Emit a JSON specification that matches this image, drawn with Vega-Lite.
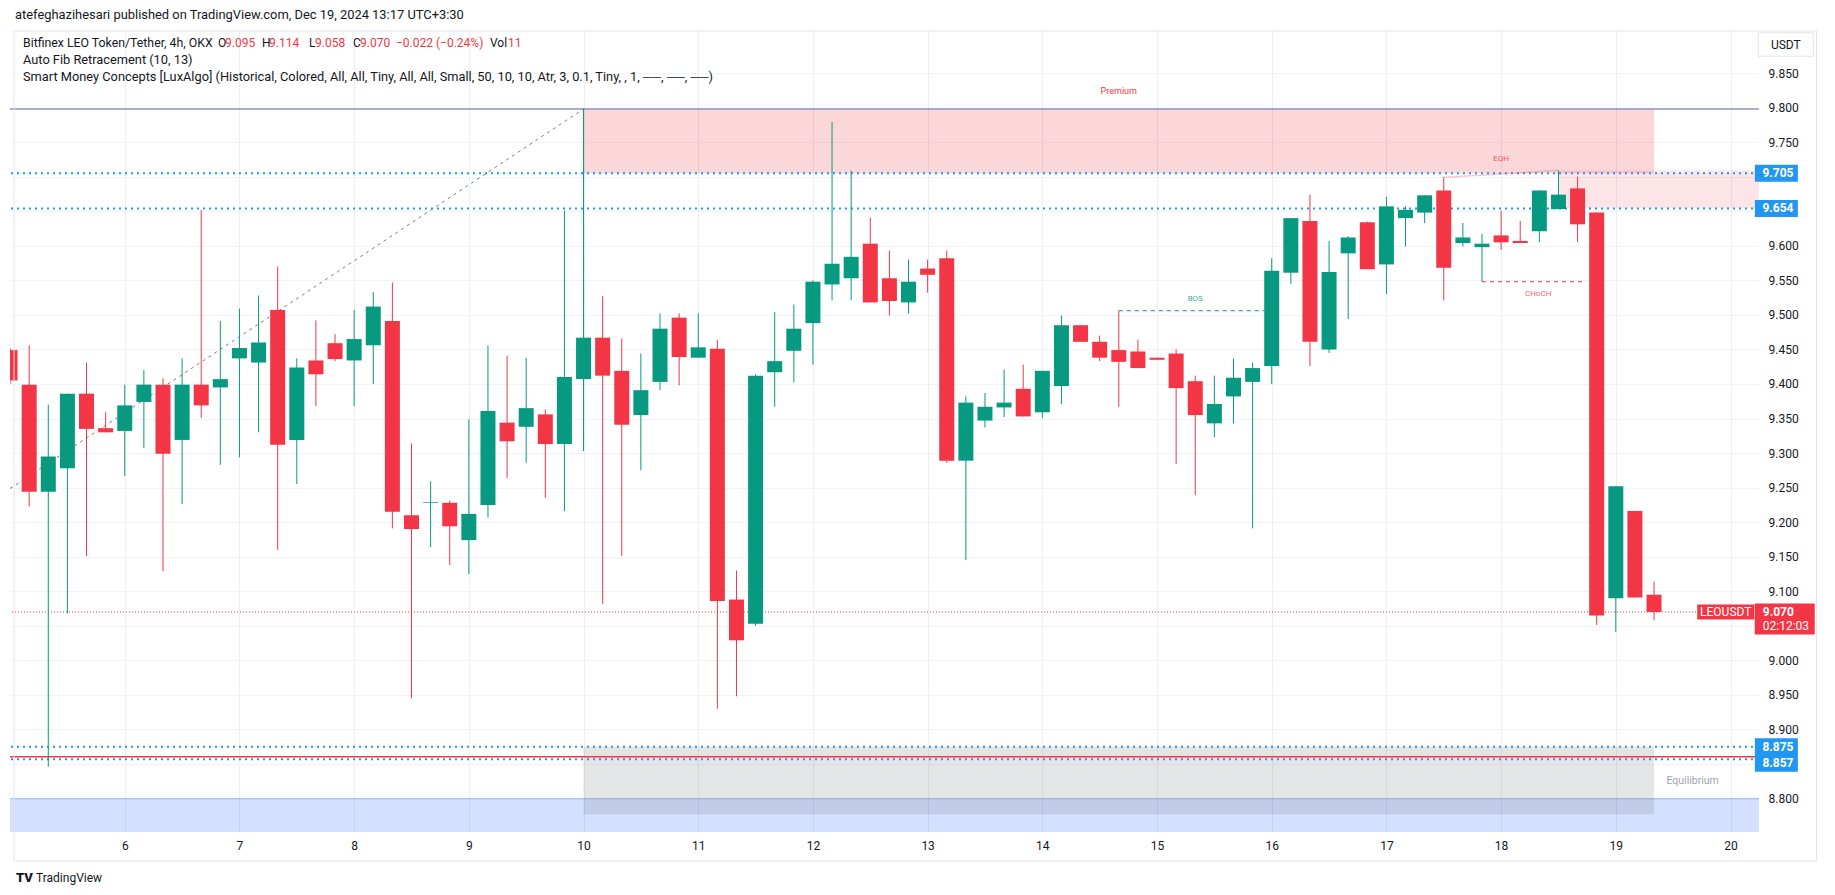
{
  "$schema": "https://vega.github.io/schema/vega-lite/v6.json",
  "width": 1749,
  "height": 801,
  "autosize": {"type": "none"},
  "padding": {"left": 10, "top": 31, "right": 76, "bottom": 63},
  "background": "#ffffff",
  "config": {
    "view": {"stroke": null},
    "font": "Roboto",
    "axis": {"domain": false, "ticks": false, "tickSize": 0, "labelFont": "Roboto", "labelFontSize": 12, "labelColor": "#131722", "labelOverlap": false}
  },
  "datasets": {
    "candles": [
      {"t": "2024-12-05T00:00:00Z", "o": 9.449, "h": 9.452, "l": 9.400, "c": 9.405},
      {"t": "2024-12-05T04:00:00Z", "o": 9.399, "h": 9.456, "l": 9.223, "c": 9.244},
      {"t": "2024-12-05T08:00:00Z", "o": 9.244, "h": 9.370, "l": 8.846, "c": 9.295},
      {"t": "2024-12-05T12:00:00Z", "o": 9.278, "h": 9.386, "l": 9.068, "c": 9.386},
      {"t": "2024-12-05T16:00:00Z", "o": 9.386, "h": 9.431, "l": 9.151, "c": 9.335},
      {"t": "2024-12-05T20:00:00Z", "o": 9.336, "h": 9.359, "l": 9.330, "c": 9.330},
      {"t": "2024-12-06T00:00:00Z", "o": 9.332, "h": 9.399, "l": 9.267, "c": 9.369},
      {"t": "2024-12-06T04:00:00Z", "o": 9.374, "h": 9.420, "l": 9.307, "c": 9.399},
      {"t": "2024-12-06T08:00:00Z", "o": 9.399, "h": 9.408, "l": 9.129, "c": 9.299},
      {"t": "2024-12-06T12:00:00Z", "o": 9.319, "h": 9.437, "l": 9.226, "c": 9.399},
      {"t": "2024-12-06T16:00:00Z", "o": 9.399, "h": 9.652, "l": 9.351, "c": 9.369},
      {"t": "2024-12-06T20:00:00Z", "o": 9.395, "h": 9.491, "l": 9.283, "c": 9.407},
      {"t": "2024-12-07T00:00:00Z", "o": 9.437, "h": 9.509, "l": 9.294, "c": 9.452},
      {"t": "2024-12-07T04:00:00Z", "o": 9.431, "h": 9.528, "l": 9.330, "c": 9.460},
      {"t": "2024-12-07T08:00:00Z", "o": 9.507, "h": 9.570, "l": 9.160, "c": 9.312},
      {"t": "2024-12-07T12:00:00Z", "o": 9.319, "h": 9.437, "l": 9.255, "c": 9.424},
      {"t": "2024-12-07T16:00:00Z", "o": 9.434, "h": 9.492, "l": 9.368, "c": 9.414},
      {"t": "2024-12-07T20:00:00Z", "o": 9.459, "h": 9.472, "l": 9.433, "c": 9.436},
      {"t": "2024-12-08T00:00:00Z", "o": 9.434, "h": 9.507, "l": 9.368, "c": 9.465},
      {"t": "2024-12-08T04:00:00Z", "o": 9.456, "h": 9.533, "l": 9.400, "c": 9.512},
      {"t": "2024-12-08T08:00:00Z", "o": 9.491, "h": 9.547, "l": 9.191, "c": 9.215},
      {"t": "2024-12-08T12:00:00Z", "o": 9.210, "h": 9.314, "l": 8.945, "c": 9.190},
      {"t": "2024-12-08T16:00:00Z", "o": 9.228, "h": 9.259, "l": 9.164, "c": 9.229},
      {"t": "2024-12-08T20:00:00Z", "o": 9.228, "h": 9.231, "l": 9.138, "c": 9.194},
      {"t": "2024-12-09T00:00:00Z", "o": 9.174, "h": 9.349, "l": 9.125, "c": 9.212},
      {"t": "2024-12-09T04:00:00Z", "o": 9.225, "h": 9.456, "l": 9.207, "c": 9.361},
      {"t": "2024-12-09T08:00:00Z", "o": 9.344, "h": 9.441, "l": 9.264, "c": 9.317},
      {"t": "2024-12-09T12:00:00Z", "o": 9.338, "h": 9.438, "l": 9.286, "c": 9.365},
      {"t": "2024-12-09T16:00:00Z", "o": 9.356, "h": 9.363, "l": 9.235, "c": 9.313},
      {"t": "2024-12-09T20:00:00Z", "o": 9.313, "h": 9.651, "l": 9.216, "c": 9.410},
      {"t": "2024-12-10T00:00:00Z", "o": 9.407, "h": 9.798, "l": 9.303, "c": 9.467},
      {"t": "2024-12-10T04:00:00Z", "o": 9.467, "h": 9.527, "l": 9.082, "c": 9.412},
      {"t": "2024-12-10T08:00:00Z", "o": 9.419, "h": 9.466, "l": 9.151, "c": 9.341},
      {"t": "2024-12-10T12:00:00Z", "o": 9.355, "h": 9.444, "l": 9.275, "c": 9.391},
      {"t": "2024-12-10T16:00:00Z", "o": 9.403, "h": 9.502, "l": 9.391, "c": 9.480},
      {"t": "2024-12-10T20:00:00Z", "o": 9.496, "h": 9.502, "l": 9.398, "c": 9.439},
      {"t": "2024-12-11T00:00:00Z", "o": 9.438, "h": 9.502, "l": 9.438, "c": 9.453},
      {"t": "2024-12-11T04:00:00Z", "o": 9.451, "h": 9.464, "l": 8.930, "c": 9.086},
      {"t": "2024-12-11T08:00:00Z", "o": 9.088, "h": 9.130, "l": 8.948, "c": 9.029},
      {"t": "2024-12-11T12:00:00Z", "o": 9.053, "h": 9.414, "l": 9.050, "c": 9.412},
      {"t": "2024-12-11T16:00:00Z", "o": 9.417, "h": 9.504, "l": 9.367, "c": 9.433},
      {"t": "2024-12-11T20:00:00Z", "o": 9.448, "h": 9.515, "l": 9.402, "c": 9.480},
      {"t": "2024-12-12T00:00:00Z", "o": 9.488, "h": 9.550, "l": 9.428, "c": 9.548},
      {"t": "2024-12-12T04:00:00Z", "o": 9.544, "h": 9.779, "l": 9.521, "c": 9.574},
      {"t": "2024-12-12T08:00:00Z", "o": 9.553, "h": 9.709, "l": 9.521, "c": 9.584},
      {"t": "2024-12-12T12:00:00Z", "o": 9.603, "h": 9.641, "l": 9.518, "c": 9.518},
      {"t": "2024-12-12T16:00:00Z", "o": 9.553, "h": 9.593, "l": 9.499, "c": 9.520},
      {"t": "2024-12-12T20:00:00Z", "o": 9.518, "h": 9.580, "l": 9.502, "c": 9.548},
      {"t": "2024-12-13T00:00:00Z", "o": 9.567, "h": 9.580, "l": 9.532, "c": 9.558},
      {"t": "2024-12-13T04:00:00Z", "o": 9.582, "h": 9.593, "l": 9.286, "c": 9.289},
      {"t": "2024-12-13T08:00:00Z", "o": 9.289, "h": 9.382, "l": 9.145, "c": 9.373},
      {"t": "2024-12-13T12:00:00Z", "o": 9.347, "h": 9.387, "l": 9.337, "c": 9.367},
      {"t": "2024-12-13T16:00:00Z", "o": 9.366, "h": 9.421, "l": 9.352, "c": 9.373},
      {"t": "2024-12-13T20:00:00Z", "o": 9.393, "h": 9.428, "l": 9.353, "c": 9.353},
      {"t": "2024-12-14T00:00:00Z", "o": 9.359, "h": 9.419, "l": 9.351, "c": 9.419},
      {"t": "2024-12-14T04:00:00Z", "o": 9.397, "h": 9.499, "l": 9.371, "c": 9.485},
      {"t": "2024-12-14T08:00:00Z", "o": 9.485, "h": 9.485, "l": 9.461, "c": 9.461},
      {"t": "2024-12-14T12:00:00Z", "o": 9.461, "h": 9.470, "l": 9.433, "c": 9.438},
      {"t": "2024-12-14T16:00:00Z", "o": 9.449, "h": 9.506, "l": 9.367, "c": 9.432},
      {"t": "2024-12-14T20:00:00Z", "o": 9.447, "h": 9.464, "l": 9.423, "c": 9.423},
      {"t": "2024-12-15T00:00:00Z", "o": 9.438, "h": 9.438, "l": 9.435, "c": 9.435},
      {"t": "2024-12-15T04:00:00Z", "o": 9.444, "h": 9.450, "l": 9.284, "c": 9.394},
      {"t": "2024-12-15T08:00:00Z", "o": 9.404, "h": 9.412, "l": 9.239, "c": 9.355},
      {"t": "2024-12-15T12:00:00Z", "o": 9.343, "h": 9.412, "l": 9.323, "c": 9.371},
      {"t": "2024-12-15T16:00:00Z", "o": 9.382, "h": 9.437, "l": 9.343, "c": 9.409},
      {"t": "2024-12-15T20:00:00Z", "o": 9.403, "h": 9.431, "l": 9.191, "c": 9.423},
      {"t": "2024-12-16T00:00:00Z", "o": 9.426, "h": 9.582, "l": 9.400, "c": 9.564},
      {"t": "2024-12-16T04:00:00Z", "o": 9.561, "h": 9.640, "l": 9.545, "c": 9.640},
      {"t": "2024-12-16T08:00:00Z", "o": 9.636, "h": 9.674, "l": 9.426, "c": 9.461},
      {"t": "2024-12-16T12:00:00Z", "o": 9.450, "h": 9.607, "l": 9.445, "c": 9.562},
      {"t": "2024-12-16T16:00:00Z", "o": 9.589, "h": 9.614, "l": 9.494, "c": 9.612},
      {"t": "2024-12-16T20:00:00Z", "o": 9.634, "h": 9.635, "l": 9.566, "c": 9.566},
      {"t": "2024-12-17T00:00:00Z", "o": 9.573, "h": 9.671, "l": 9.530, "c": 9.657},
      {"t": "2024-12-17T04:00:00Z", "o": 9.640, "h": 9.657, "l": 9.599, "c": 9.652},
      {"t": "2024-12-17T08:00:00Z", "o": 9.648, "h": 9.673, "l": 9.633, "c": 9.673},
      {"t": "2024-12-17T12:00:00Z", "o": 9.680, "h": 9.699, "l": 9.521, "c": 9.568},
      {"t": "2024-12-17T16:00:00Z", "o": 9.604, "h": 9.633, "l": 9.599, "c": 9.612},
      {"t": "2024-12-17T20:00:00Z", "o": 9.598, "h": 9.617, "l": 9.548, "c": 9.603},
      {"t": "2024-12-18T00:00:00Z", "o": 9.615, "h": 9.651, "l": 9.594, "c": 9.605},
      {"t": "2024-12-18T04:00:00Z", "o": 9.607, "h": 9.636, "l": 9.604, "c": 9.604},
      {"t": "2024-12-18T08:00:00Z", "o": 9.621, "h": 9.680, "l": 9.605, "c": 9.680},
      {"t": "2024-12-18T12:00:00Z", "o": 9.653, "h": 9.709, "l": 9.653, "c": 9.674},
      {"t": "2024-12-18T16:00:00Z", "o": 9.683, "h": 9.700, "l": 9.605, "c": 9.631},
      {"t": "2024-12-18T20:00:00Z", "o": 9.648, "h": 9.648, "l": 9.051, "c": 9.065},
      {"t": "2024-12-19T00:00:00Z", "o": 9.090, "h": 9.252, "l": 9.041, "c": 9.252},
      {"t": "2024-12-19T04:00:00Z", "o": 9.216, "h": 9.216, "l": 9.091, "c": 9.091},
      {"t": "2024-12-19T08:00:00Z", "o": 9.095, "h": 9.114, "l": 9.058, "c": 9.070}
    ]
  },
  "layer": [
    {
      "data": {"values": [{"t1": "2024-12-04T00:00:00Z", "t2": "2024-12-22T00:00:00Z", "p1": 8.60, "p2": 8.80}]},
      "mark": {"type": "rect", "clip": true, "fill": "#2962ff", "fillOpacity": 0.2, "stroke": "#2962ff", "strokeOpacity": 0.35, "strokeWidth": 1},
      "encoding": {
        "x": {"field": "t1", "type": "temporal",
          "scale": {"type": "utc", "domain": [{"year": 2024, "month": 12, "date": 5, "hours": 1, "minutes": 2, "utc": true}, {"year": 2024, "month": 12, "date": 20, "hours": 4, "minutes": 55, "utc": true}]},
          "axis": {"title": null, "grid": true, "gridColor": "#eceef2", "labelPadding": 8, "labelOverlap": false, "tickCount": 40, "labelExpr": "utcFormat(datum.value, '%-d')",
            "values": [
              {"year": 2024, "month": 12, "date": 6, "utc": true}, {"year": 2024, "month": 12, "date": 7, "utc": true},
              {"year": 2024, "month": 12, "date": 8, "utc": true}, {"year": 2024, "month": 12, "date": 9, "utc": true},
              {"year": 2024, "month": 12, "date": 10, "utc": true}, {"year": 2024, "month": 12, "date": 11, "utc": true},
              {"year": 2024, "month": 12, "date": 12, "utc": true}, {"year": 2024, "month": 12, "date": 13, "utc": true},
              {"year": 2024, "month": 12, "date": 14, "utc": true}, {"year": 2024, "month": 12, "date": 15, "utc": true},
              {"year": 2024, "month": 12, "date": 16, "utc": true}, {"year": 2024, "month": 12, "date": 17, "utc": true},
              {"year": 2024, "month": 12, "date": 18, "utc": true}, {"year": 2024, "month": 12, "date": 19, "utc": true},
              {"year": 2024, "month": 12, "date": 20, "utc": true}]}},
        "x2": {"field": "t2"},
        "y": {"field": "p1", "type": "quantitative",
          "scale": {"domain": [8.7516, 9.9108], "zero": false, "nice": false},
          "axis": {"title": null, "orient": "right", "grid": true, "gridColor": "#f0f3fa", "labelPadding": 9, "format": ".3f", "labelOverlap": false, "tickCount": 40,
            "labelExpr": "indexof(['9.700', '9.650', '9.050', '8.850'], datum.label) >= 0 ? '' : datum.label",
            "values": [8.8, 8.85, 8.9, 8.95, 9.0, 9.05, 9.1, 9.15, 9.2, 9.25, 9.3, 9.35, 9.4, 9.45, 9.5, 9.55, 9.6, 9.65, 9.7, 9.75, 9.8, 9.85]}},
        "y2": {"field": "p2"}
      }
    },
    {
      "data": {"values": [{"t1": "2024-12-10T00:00:00Z", "t2": "2024-12-19T08:00:00Z", "p1": 8.777, "p2": 8.875}]},
      "mark": {"type": "rect", "clip": true, "fill": "#787b86", "fillOpacity": 0.2},
      "encoding": {"x": {"field": "t1", "type": "temporal"}, "x2": {"field": "t2"}, "y": {"field": "p1", "type": "quantitative"}, "y2": {"field": "p2"}}
    },
    {
      "data": {"values": [{"t1": "2024-12-10T00:00:00Z", "t2": "2024-12-19T08:00:00Z", "p1": 9.705, "p2": 9.798}]},
      "mark": {"type": "rect", "clip": true, "fill": "#f23645", "fillOpacity": 0.2},
      "encoding": {"x": {"field": "t1", "type": "temporal"}, "x2": {"field": "t2"}, "y": {"field": "p1", "type": "quantitative"}, "y2": {"field": "p2"}}
    },
    {
      "data": {"values": [{"t1": "2024-12-18T12:00:00Z", "t2": "2024-12-22T00:00:00Z", "p1": 9.6545, "p2": 9.709}]},
      "mark": {"type": "rect", "clip": true, "fill": "#f23645", "fillOpacity": 0.13},
      "encoding": {"x": {"field": "t1", "type": "temporal"}, "x2": {"field": "t2"}, "y": {"field": "p1", "type": "quantitative"}, "y2": {"field": "p2"}}
    },
    {
      "data": {"values": [{"p": 9.798}]},
      "mark": {"type": "rule", "clip": true, "stroke": "#8e97b3", "strokeWidth": 1.5},
      "encoding": {"y": {"field": "p", "type": "quantitative"}}
    },
    {
      "data": {"values": [{"t": "2024-12-05T00:00:00Z", "p": 9.2487}, {"t": "2024-12-10T00:00:00Z", "p": 9.798}]},
      "mark": {"type": "line", "clip": true, "stroke": "#787b86", "strokeWidth": 1, "strokeDash": [3, 4]},
      "encoding": {"x": {"field": "t", "type": "temporal"}, "y": {"field": "p", "type": "quantitative"}}
    },
    {
      "data": {"values": [{"p": 9.705}, {"p": 9.654}, {"p": 8.875}, {"p": 8.857}]},
      "mark": {"type": "rule", "clip": true, "stroke": "#2196f3", "strokeWidth": 2, "strokeDash": [2, 4]},
      "encoding": {"y": {"field": "p", "type": "quantitative"}}
    },
    {
      "data": {"values": [{"p": 8.8605}]},
      "mark": {"type": "rule", "clip": true, "stroke": "#f23645", "strokeWidth": 1.5},
      "encoding": {"y": {"field": "p", "type": "quantitative"}}
    },
    {
      "data": {"values": [{"p": 9.070}]},
      "mark": {"type": "rule", "clip": true, "stroke": "#f23645", "strokeWidth": 1, "strokeDash": [1, 2]},
      "encoding": {"y": {"field": "p", "type": "quantitative"}}
    },
    {
      "data": {"values": [{"t1": "2024-12-14T16:00:00Z", "t2": "2024-12-15T22:25:00Z", "p": 9.506}]},
      "mark": {"type": "rule", "clip": true, "stroke": "#089981", "strokeWidth": 1, "strokeDash": [4, 4]},
      "encoding": {"x": {"field": "t1", "type": "temporal"}, "x2": {"field": "t2"}, "y": {"field": "p", "type": "quantitative"}}
    },
    {
      "data": {"values": [{"t1": "2024-12-17T20:00:00Z", "t2": "2024-12-18T17:30:00Z", "p": 9.548}]},
      "mark": {"type": "rule", "clip": true, "stroke": "#f23645", "strokeWidth": 1, "strokeDash": [4, 4]},
      "encoding": {"x": {"field": "t1", "type": "temporal"}, "x2": {"field": "t2"}, "y": {"field": "p", "type": "quantitative"}}
    },
    {
      "data": {"values": [{"t1": "2024-12-17T12:00:00Z", "t2": "2024-12-18T12:00:00Z", "p1": 9.699, "p2": 9.709}]},
      "mark": {"type": "rule", "clip": true, "stroke": "#f23645", "strokeOpacity": 0.55, "strokeWidth": 1.5, "strokeDash": [1, 1]},
      "encoding": {"x": {"field": "t1", "type": "temporal"}, "x2": {"field": "t2"}, "y": {"field": "p1", "type": "quantitative"}, "y2": {"field": "p2"}}
    },
    {
      "data": {"name": "candles"},
      "mark": {"type": "rule", "clip": true, "strokeWidth": 1},
      "encoding": {
        "x": {"field": "t", "type": "temporal"},
        "y": {"field": "l", "type": "quantitative"},
        "y2": {"field": "h"},
        "color": {"condition": {"test": "datum.c >= datum.o", "value": "#089981"}, "value": "#f23645"}
      }
    },
    {
      "data": {"name": "candles"},
      "mark": {"type": "bar", "clip": true, "width": 15},
      "encoding": {
        "x": {"field": "t", "type": "temporal"},
        "y": {"field": "o", "type": "quantitative"},
        "y2": {"field": "c"},
        "color": {"condition": {"test": "datum.c >= datum.o", "value": "#089981"}, "value": "#f23645"}
      }
    },
    {
      "data": {"values": [{"s": "Premium", "t": "2024-12-14T16:00:00Z", "p": 9.8235}]},
      "mark": {"type": "text", "fontSize": 9, "color": "#f23645", "align": "center", "baseline": "middle"},
      "encoding": {"x": {"field": "t", "type": "temporal"}, "y": {"field": "p", "type": "quantitative"}, "text": {"field": "s"}}
    },
    {
      "data": {"values": [{"s": "Equilibrium", "t": "2024-12-19T10:36:00Z", "p": 8.825}]},
      "mark": {"type": "text", "fontSize": 10.5, "color": "#a0a3ab", "align": "left", "baseline": "middle"},
      "encoding": {"x": {"field": "t", "type": "temporal"}, "y": {"field": "p", "type": "quantitative"}, "text": {"field": "s"}}
    },
    {
      "data": {"values": [{"s": "BOS", "t": "2024-12-15T08:00:00Z", "p": 9.5234}]},
      "mark": {"type": "text", "fontSize": 8, "color": "#089981", "opacity": 0.8, "align": "center", "baseline": "middle"},
      "encoding": {"x": {"field": "t", "type": "temporal"}, "y": {"field": "p", "type": "quantitative"}, "text": {"field": "s"}}
    },
    {
      "data": {"values": [{"s": "CHoCH", "t": "2024-12-18T07:45:00Z", "p": 9.5306}, {"s": "EQH", "t": "2024-12-18T00:00:00Z", "p": 9.7254}]},
      "mark": {"type": "text", "fontSize": 8, "color": "#f23645", "opacity": 0.8, "align": "center", "baseline": "middle"},
      "encoding": {"x": {"field": "t", "type": "temporal"}, "y": {"field": "p", "type": "quantitative"}, "text": {"field": "s"}}
    },
    {
      "data": {"values": [{"s": "Bitfinex LEO Token/Tether, 4h, OKX", "t": "2024-12-05T01:02:00Z", "p": 9.8938}]},
      "mark": {"type": "text", "fontSize": 12.3, "color": "#131722", "align": "left", "baseline": "middle", "dx": 8},
      "encoding": {"x": {"field": "t", "type": "temporal"}, "y": {"field": "p", "type": "quantitative"}, "text": {"field": "s"}}
    },
    {
      "data": {"values": [
        {"s": "Auto Fib Retracement (10, 13)", "t": "2024-12-05T01:02:00Z", "p": 9.8688},
        {"s": "Smart Money Concepts [LuxAlgo] (Historical, Colored, All, All, Tiny, All, All, Small, 50, 10, 10, Atr, 3, 0.1, Tiny, , 1, ──, ──, ──)", "t": "2024-12-05T01:02:00Z", "p": 9.8446}
      ]},
      "mark": {"type": "text", "fontSize": 12.8, "color": "#131722", "align": "left", "baseline": "middle", "dx": 8},
      "encoding": {"x": {"field": "t", "type": "temporal"}, "y": {"field": "p", "type": "quantitative"}, "text": {"field": "s"}}
    },
    {"data": {"values": [{"s": "O", "t": "2024-12-05T01:02:00Z", "p": 9.8938}]},
      "mark": {"type": "text", "fontSize": 12, "color": "#131722", "align": "left", "baseline": "middle", "dx": 203},
      "encoding": {"x": {"field": "t", "type": "temporal"}, "y": {"field": "p", "type": "quantitative"}, "text": {"field": "s"}}},
    {"data": {"values": [{"s": "9.095", "t": "2024-12-05T01:02:00Z", "p": 9.8938}]},
      "mark": {"type": "text", "fontSize": 12, "color": "#f23645", "align": "left", "baseline": "middle", "dx": 210},
      "encoding": {"x": {"field": "t", "type": "temporal"}, "y": {"field": "p", "type": "quantitative"}, "text": {"field": "s"}}},
    {"data": {"values": [{"s": "H", "t": "2024-12-05T01:02:00Z", "p": 9.8938}]},
      "mark": {"type": "text", "fontSize": 12, "color": "#131722", "align": "left", "baseline": "middle", "dx": 247},
      "encoding": {"x": {"field": "t", "type": "temporal"}, "y": {"field": "p", "type": "quantitative"}, "text": {"field": "s"}}},
    {"data": {"values": [{"s": "9.114", "t": "2024-12-05T01:02:00Z", "p": 9.8938}]},
      "mark": {"type": "text", "fontSize": 12, "color": "#f23645", "align": "left", "baseline": "middle", "dx": 254},
      "encoding": {"x": {"field": "t", "type": "temporal"}, "y": {"field": "p", "type": "quantitative"}, "text": {"field": "s"}}},
    {"data": {"values": [{"s": "L", "t": "2024-12-05T01:02:00Z", "p": 9.8938}]},
      "mark": {"type": "text", "fontSize": 12, "color": "#131722", "align": "left", "baseline": "middle", "dx": 294},
      "encoding": {"x": {"field": "t", "type": "temporal"}, "y": {"field": "p", "type": "quantitative"}, "text": {"field": "s"}}},
    {"data": {"values": [{"s": "9.058", "t": "2024-12-05T01:02:00Z", "p": 9.8938}]},
      "mark": {"type": "text", "fontSize": 12, "color": "#f23645", "align": "left", "baseline": "middle", "dx": 300},
      "encoding": {"x": {"field": "t", "type": "temporal"}, "y": {"field": "p", "type": "quantitative"}, "text": {"field": "s"}}},
    {"data": {"values": [{"s": "C", "t": "2024-12-05T01:02:00Z", "p": 9.8938}]},
      "mark": {"type": "text", "fontSize": 12, "color": "#131722", "align": "left", "baseline": "middle", "dx": 338},
      "encoding": {"x": {"field": "t", "type": "temporal"}, "y": {"field": "p", "type": "quantitative"}, "text": {"field": "s"}}},
    {"data": {"values": [{"s": "9.070", "t": "2024-12-05T01:02:00Z", "p": 9.8938}]},
      "mark": {"type": "text", "fontSize": 12, "color": "#f23645", "align": "left", "baseline": "middle", "dx": 345},
      "encoding": {"x": {"field": "t", "type": "temporal"}, "y": {"field": "p", "type": "quantitative"}, "text": {"field": "s"}}},
    {"data": {"values": [{"s": "−0.022 (−0.24%)", "t": "2024-12-05T01:02:00Z", "p": 9.8938}]},
      "mark": {"type": "text", "fontSize": 12, "color": "#f23645", "align": "left", "baseline": "middle", "dx": 381},
      "encoding": {"x": {"field": "t", "type": "temporal"}, "y": {"field": "p", "type": "quantitative"}, "text": {"field": "s"}}},
    {"data": {"values": [{"s": "Vol", "t": "2024-12-05T01:02:00Z", "p": 9.8938}]},
      "mark": {"type": "text", "fontSize": 12, "color": "#131722", "align": "left", "baseline": "middle", "dx": 475},
      "encoding": {"x": {"field": "t", "type": "temporal"}, "y": {"field": "p", "type": "quantitative"}, "text": {"field": "s"}}},
    {"data": {"values": [{"s": "11", "t": "2024-12-05T01:02:00Z", "p": 9.8938}]},
      "mark": {"type": "text", "fontSize": 12, "color": "#f23645", "align": "left", "baseline": "middle", "dx": 493},
      "encoding": {"x": {"field": "t", "type": "temporal"}, "y": {"field": "p", "type": "quantitative"}, "text": {"field": "s"}}},
    {"data": {"values": [{"s": "atefeghazihesari published on TradingView.com, Dec 19, 2024 13:17 UTC+3:30", "t": "2024-12-05T01:02:00Z", "p": 9.9339}]},
      "mark": {"type": "text", "fontSize": 12.9, "color": "#131722", "align": "left", "baseline": "middle", "dx": 0, "clip": false},
      "encoding": {"x": {"field": "t", "type": "temporal"}, "y": {"field": "p", "type": "quantitative"}, "text": {"field": "s"}}},
    {"data": {"values": [{"s": "TV", "t": "2024-12-05T01:02:00Z", "p": 8.685}]},
      "mark": {"type": "text", "fontSize": 13, "fontWeight": 900, "color": "#131722", "align": "left", "baseline": "middle", "dx": 1},
      "encoding": {"x": {"field": "t", "type": "temporal"}, "y": {"field": "p", "type": "quantitative"}, "text": {"field": "s"}}},
    {"data": {"values": [{"s": "TradingView", "t": "2024-12-05T01:02:00Z", "p": 8.685}]},
      "mark": {"type": "text", "fontSize": 12, "color": "#131722", "align": "left", "baseline": "middle", "dx": 21},
      "encoding": {"x": {"field": "t", "type": "temporal"}, "y": {"field": "p", "type": "quantitative"}, "text": {"field": "s"}}},
    {"data": {"values": [{"t1": "2024-12-05T00:50:00Z", "t2": "2024-12-20T18:00:00Z", "p1": 8.7096, "p2": 9.9108}]},
      "mark": {"type": "rect", "fill": "transparent", "stroke": "#e0e3eb", "strokeWidth": 1},
      "encoding": {"x": {"field": "t1", "type": "temporal"}, "x2": {"field": "t2"}, "y": {"field": "p1", "type": "quantitative"}, "y2": {"field": "p2"}}},
    {"data": {"values": [{"t": "2024-12-20T11:34:00Z", "p": 9.8912}]},
      "mark": {"type": "point", "shape": "M-1,-0.4255H1V0.4255H-1Z", "size": 3025, "filled": true, "fill": "#ffffff", "fillOpacity": 1, "stroke": "#e0e3eb", "strokeWidth": 1, "opacity": 1},
      "encoding": {"x": {"field": "t", "type": "temporal"}, "y": {"field": "p", "type": "quantitative"}}},
    {"data": {"values": [{"s": "USDT", "t": "2024-12-20T11:34:00Z", "p": 9.8912}]},
      "mark": {"type": "text", "fontSize": 12, "color": "#131722", "align": "center", "baseline": "middle"},
      "encoding": {"x": {"field": "t", "type": "temporal"}, "y": {"field": "p", "type": "quantitative"}, "text": {"field": "s"}}},
    {"data": {"values": [{"t": "2024-12-20T09:36:00Z", "p": 9.705}, {"t": "2024-12-20T09:36:00Z", "p": 9.654}, {"t": "2024-12-20T09:36:00Z", "p": 8.875}]},
      "mark": {"type": "point", "shape": "M-1,-0.395H1V0.395H-1Z", "size": 1849, "filled": true, "fill": "#2196f3", "fillOpacity": 1, "strokeWidth": 0, "opacity": 1},
      "encoding": {"x": {"field": "t", "type": "temporal"}, "y": {"field": "p", "type": "quantitative"}}},
    {"data": {"values": [{"t": "2024-12-20T09:36:00Z", "p": 8.857}]},
      "mark": {"type": "point", "shape": "M-1,-0.395H1V0.395H-1Z", "size": 1849, "filled": true, "fill": "#2196f3", "fillOpacity": 1, "strokeWidth": 0, "opacity": 1, "yOffset": 4},
      "encoding": {"x": {"field": "t", "type": "temporal"}, "y": {"field": "p", "type": "quantitative"}}},
    {"data": {"values": [{"s": "9.705", "t": "2024-12-20T09:36:00Z", "p": 9.705}, {"s": "9.654", "t": "2024-12-20T09:36:00Z", "p": 9.654}, {"s": "8.875", "t": "2024-12-20T09:36:00Z", "p": 8.875}]},
      "mark": {"type": "text", "fontSize": 12, "fontWeight": "bold", "color": "#ffffff", "align": "left", "baseline": "middle", "dx": -14},
      "encoding": {"x": {"field": "t", "type": "temporal"}, "y": {"field": "p", "type": "quantitative"}, "text": {"field": "s"}}},
    {"data": {"values": [{"s": "8.857", "t": "2024-12-20T09:36:00Z", "p": 8.857}]},
      "mark": {"type": "text", "fontSize": 12, "fontWeight": "bold", "color": "#ffffff", "align": "left", "baseline": "middle", "dx": -14, "dy": 4},
      "encoding": {"x": {"field": "t", "type": "temporal"}, "y": {"field": "p", "type": "quantitative"}, "text": {"field": "s"}}},
    {"data": {"values": [{"t": "2024-12-20T11:21:00Z", "p": 9.070}]},
      "mark": {"type": "point", "shape": "M-1,-0.5167H1V0.5167H-1Z", "size": 3600, "filled": true, "fill": "#f23645", "fillOpacity": 1, "strokeWidth": 0, "opacity": 1, "yOffset": 7},
      "encoding": {"x": {"field": "t", "type": "temporal"}, "y": {"field": "p", "type": "quantitative"}}},
    {"data": {"values": [{"s": "9.070", "t": "2024-12-20T11:09:00Z", "p": 9.070}]},
      "mark": {"type": "text", "fontSize": 12, "fontWeight": "bold", "color": "#ffffff", "align": "left", "baseline": "middle", "dx": -21},
      "encoding": {"x": {"field": "t", "type": "temporal"}, "y": {"field": "p", "type": "quantitative"}, "text": {"field": "s"}}},
    {"data": {"values": [{"s": "02:12:03", "t": "2024-12-20T11:09:00Z", "p": 9.070}]},
      "mark": {"type": "text", "fontSize": 12, "color": "#ffffff", "align": "left", "baseline": "middle", "dx": -21, "dy": 14},
      "encoding": {"x": {"field": "t", "type": "temporal"}, "y": {"field": "p", "type": "quantitative"}, "text": {"field": "s"}}},
    {"data": {"values": [{"t": "2024-12-19T23:00:00Z", "p": 9.070}]},
      "mark": {"type": "point", "shape": "M-1,-0.263H1V0.263H-1Z", "size": 3249, "filled": true, "fill": "#f23645", "fillOpacity": 1, "strokeWidth": 0, "opacity": 1},
      "encoding": {"x": {"field": "t", "type": "temporal"}, "y": {"field": "p", "type": "quantitative"}}},
    {"data": {"values": [{"s": "LEOUSDT", "t": "2024-12-19T23:00:00Z", "p": 9.070}]},
      "mark": {"type": "text", "fontSize": 12, "color": "#ffffff", "align": "center", "baseline": "middle"},
      "encoding": {"x": {"field": "t", "type": "temporal"}, "y": {"field": "p", "type": "quantitative"}, "text": {"field": "s"}}}
  ]
}
